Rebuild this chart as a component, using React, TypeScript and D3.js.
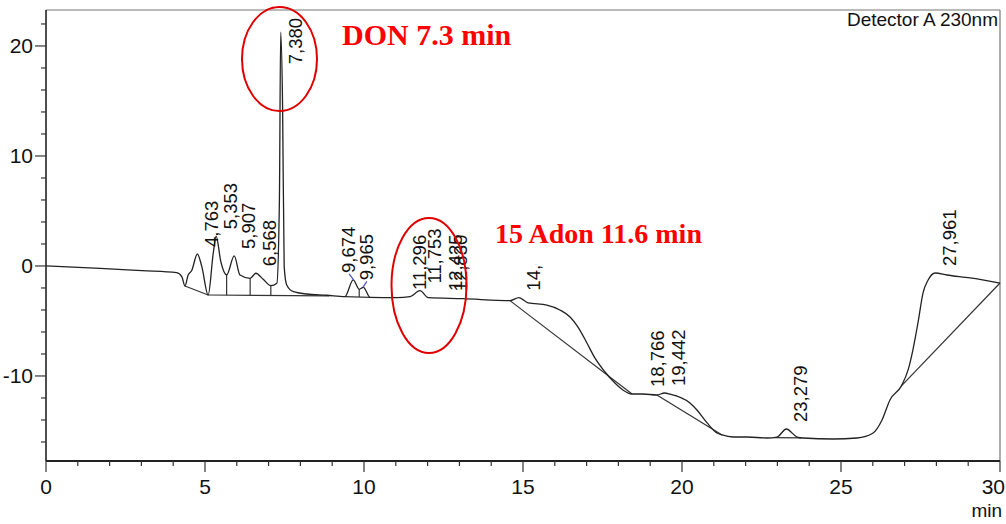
import React from "react";
import * as d3 from "d3";

// ---- data ----
const traceT = [
  0, 1.7, 3.02, 4.11, 4.27, 4.37, 4.47, 4.58, 4.76, 4.9, 5.1, 5.26, 5.35, 5.5, 5.68, 5.92, 6.1, 6.42, 6.6,
  6.83, 7.07, 7.26, 7.34, 7.38, 7.44, 7.49, 7.57, 7.78, 8.2, 8.83, 9.4, 9.66, 9.85, 9.98, 10.19, 11.03,
  11.45, 11.76, 12.02, 13.12, 14.59, 14.87, 15.16, 15.75, 16.16, 16.48, 16.73, 17.01, 17.26, 17.58, 17.89,
  18.14, 18.43, 18.77, 19.21, 19.45, 19.62, 20.25, 20.47, 20.79, 21.1, 21.26, 21.6, 22.04, 22.67, 22.99,
  23.28, 23.62, 23.81, 24.75, 25.5, 26.01, 26.29, 26.54, 26.9, 27.11, 27.26, 27.42, 27.58, 27.74, 27.96,
  28.33, 29.06, 30.0,
];
const traceV = [
  0, -0.21, -0.43, -0.61, -0.97, -1.82, -0.82, -0.43, 1.09, -0.06, -2.64, 1.18, 2.7, 0.36, -0.82, 0.91,
  -0.82, -1.12, -0.66, -1.21, -1.79, -1.57, 6.0, 21.25, 14.5, -0.06, -1.73, -2.34, -2.55, -2.66, -2.79,
  -1.27, -2.12, -1.94, -2.85, -2.88, -2.79, -2.24, -2.88, -2.97, -3.15, -2.88, -3.36, -3.55, -4.0, -4.64,
  -5.55, -7.0, -8.36, -9.64, -10.64, -11.27, -11.64, -11.64, -11.73, -11.55, -11.64, -12.45, -13.09,
  -14.27, -15.18, -15.36, -15.55, -15.55, -15.64, -15.55, -14.82, -15.55, -15.64, -15.73, -15.64, -15.18,
  -14.0, -12.18, -10.9, -9.45, -7.64, -5.18, -2.45, -1.27, -0.64, -0.82, -1.09, -1.55,
];

// integration baselines: [t0, v0, t1, v1]
const baselineSegments: number[][] = [
  [4.37, -1.82, 5.1, -2.64],
  [5.1, -2.64, 8.9, -2.72],
  [9.4, -2.79, 10.19, -2.85],
  [14.59, -3.15, 18.43, -11.64],
  [19.21, -11.73, 21.26, -15.36],
  [22.9, -15.6, 23.75, -15.62],
  [26.9, -10.9, 30.0, -1.55],
];
// valley drop lines (minutes)
const dropTimes = [5.68, 6.42, 7.07, 9.85];

const peakTimes = [4.763, 5.353, 5.907, 6.568, 7.38, 9.674, 9.965, 11.296, 11.753, 12.425, 12.83, 14.868, 18.766, 19.442, 23.279, 27.961];
const peakLabels = ["4,763", "5,353", "5,907", "6,568", "7,380", "9,674", "9,965", "11,296", "11,753", "12,425", "12,830", "14,868", "18,766", "19,442", "23,279", "27,961"];

const xTicks = d3.range(0, 31, 1);
const yTicks = d3.range(-16, 23, 2);

const detectorText = "Detector A 230nm";
const annotations = ["DON 7.3 min", "15 Adon 11.6 min"];

const FONT = "'Liberation Sans', Arial, Helvetica, sans-serif";
const SERIF = "'Liberation Serif', 'Times New Roman', serif";

export default function App() {
  const x = d3.scaleLinear().domain([0, 30]).range([46, 1000]);
  const y = d3.scaleLinear().domain([-17.73, 23.27]).range([461, 10]);
  const pts: [number, number][] = traceT.map((t, i) => [t, traceV[i]]);
  const line = d3
    .line<[number, number]>()
    .x((d) => x(d[0]))
    .y((d) => y(d[1]))
    .curve(d3.curveMonotoneX);

  const interp = (t: number) => {
    for (let i = 0; i < traceT.length - 1; i++) {
      if (t >= traceT[i] && t <= traceT[i + 1]) {
        const f = (t - traceT[i]) / (traceT[i + 1] - traceT[i]);
        return traceV[i] + f * (traceV[i + 1] - traceV[i]);
      }
    }
    return traceV[traceV.length - 1];
  };
  const peakValue = (t: number) => {
    const near = traceT.map((tt, i) => (Math.abs(tt - t) <= 0.08 ? traceV[i] : -Infinity));
    const m = Math.max(...near);
    return m > -Infinity ? m : interp(t);
  };
  const baseAt = (t: number) => {
    for (const s of baselineSegments) {
      if (t >= s[0] && t <= s[2]) return s[1] + ((t - s[0]) / (s[2] - s[0])) * (s[3] - s[1]);
    }
    return interp(t);
  };

  const labelFs = 18.5;
  const textLen = (s: string) => s.split("").reduce((a, c) => a + (c === "," ? 0.278 : 0.556), 0) * labelFs;
  const labelShift: Record<string, number> = { "9,674": -19.5, "9,965": -11, "12,830": -8 };
  const leaders = new Set(["9,674", "9,965"]);

  return (
    <svg
      width={1006}
      height={524}
      style={{ position: "absolute", left: 0, top: 0, background: "#fff" }}
      fontFamily={FONT}
    >
      <rect x={0} y={0} width={1006} height={524} fill="#fff" />
      {/* frame */}
      <line x1={46} y1={10} x2={1000} y2={10} stroke="#777" strokeWidth={1.2} />
      <line x1={1000} y1={10} x2={1000} y2={461} stroke="#777" strokeWidth={1.2} />
      <line x1={46} y1={10} x2={46} y2={461} stroke="#222" strokeWidth={1.6} />
      <line x1={46} y1={461} x2={1000} y2={461} stroke="#222" strokeWidth={2} />

      {/* x ticks */}
      {xTicks.map((t) => {
        const major = t % 5 === 0;
        const last = t === 30;
        return (
          <g key={"xt" + t}>
            <line x1={x(t)} x2={x(t)} y1={461} y2={major ? 472 : 466} stroke="#333" strokeWidth={1.2} />
            {major && (
              <text
                x={last ? 1005 : x(t)}
                y={494}
                fontSize={21}
                textAnchor={last ? "end" : "middle"}
                fill="#111"
              >
                {String(t)}
              </text>
            )}
          </g>
        );
      })}
      <text x={1002} y={517} fontSize={19} textAnchor="end" fill="#111">
        min
      </text>

      {/* y ticks */}
      {yTicks.map((v) => {
        const major = v % 10 === 0;
        return (
          <g key={"yt" + v}>
            <line x1={major ? 35 : 41} x2={46} y1={y(v)} y2={y(v)} stroke="#333" strokeWidth={1.2} />
            {major && (
              <text x={33} y={y(v) + 7.5} fontSize={21} textAnchor="end" fill="#111">
                {String(v)}
              </text>
            )}
          </g>
        );
      })}

      {/* baselines */}
      {baselineSegments.map((s, i) => (
        <line key={"bl" + i} x1={x(s[0])} y1={y(s[1])} x2={x(s[2])} y2={y(s[3])} stroke="#333" strokeWidth={1.2} />
      ))}
      {dropTimes.map((t, i) => (
        <line key={"dl" + i} x1={x(t)} x2={x(t)} y1={y(interp(t))} y2={y(baseAt(t))} stroke="#333" strokeWidth={1.2} />
      ))}

      {/* trace */}
      <path d={line(pts) || ""} fill="none" stroke="#222" strokeWidth={1.3} />

      {/* peak labels */}
      {peakTimes.map((t, i) => {
        const lab = peakLabels[i];
        const px = x(t);
        const py = y(peakValue(t));
        const lx = px + 21 + (labelShift[lab] || 0);
        const ly = Math.max(py - 7, 18 + textLen(lab));
        return (
          <g key={"pl" + i}>
            {leaders.has(lab) && (
              <line x1={lx - 6} y1={ly + 1} x2={px} y2={py} stroke="#5050c8" strokeWidth={1.2} />
            )}
            <text transform={`translate(${lx},${ly}) rotate(-90)`} fontSize={labelFs} fill="#111">
              {lab}
            </text>
          </g>
        );
      })}

      {/* detector label */}
      <text x={998} y={26} fontSize={19} textAnchor="end" fill="#111">
        {detectorText}
      </text>

      {/* annotations */}
      <ellipse cx={279.5} cy={59} rx={37.5} ry={52} fill="none" stroke="#e00000" strokeWidth={2} />
      <text x={342} y={45} fontSize={30} fontWeight="bold" fontFamily={SERIF} fill="#ff0000">
        {annotations[0]}
      </text>
      <rect x={490} y={212} width={215} height={52} fill="#fff" />
      <text x={495} y={243} fontSize={28} fontWeight="bold" fontFamily={SERIF} fill="#ff0000">
        {annotations[1]}
      </text>
      <ellipse cx={429} cy={285.5} rx={37.5} ry={67.5} fill="none" stroke="#e00000" strokeWidth={2} />
    </svg>
  );
}
